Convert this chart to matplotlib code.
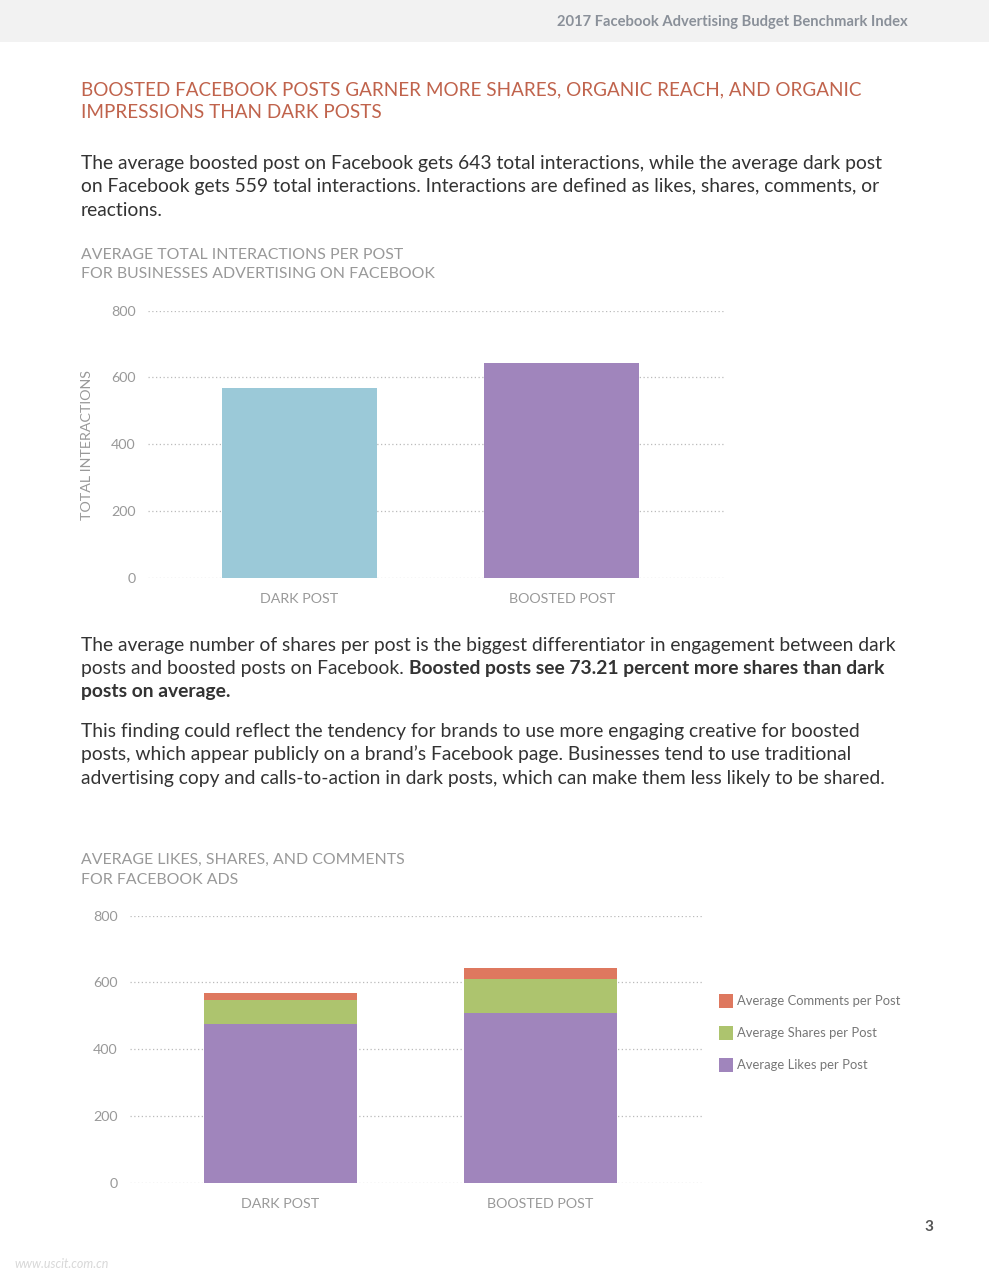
import matplotlib
matplotlib.use("Agg")
import matplotlib.pyplot as plt
from matplotlib.patches import Rectangle
import numpy as np

plt.rcParams['font.family'] = ['Lato', 'DejaVu Sans']

# data
categories = ['DARK POST', 'BOOSTED POST']
total_interactions = [568, 643]
likes = [475, 509]
shares = [72, 101]
comments = [20, 33]
y_ticks = [0, 200, 400, 600, 800]
legend_labels = ['Average Comments per Post', 'Average Shares per Post', 'Average Likes per Post']

C_BLUE = '#9bc9d8'
C_PURPLE = '#a085bc'
C_GREEN = '#adc46e'
C_RED = '#de785f'
C_TITLE = '#c0634c'
C_GRAY = '#999999'
C_BODY = '#333333'

W, H = 989, 1280
fig = plt.figure(figsize=(W / 100, H / 100), dpi=100)
fig.patch.set_facecolor('white')


def fx(px):
    return px / W


def fy(py):
    return 1 - py / H


# header band
fig.patches.append(Rectangle((0, fy(42)), 1, 42 / H, transform=fig.transFigure,
                             facecolor='#f2f2f2', edgecolor='none', zorder=0))
fig.text(fx(908), fy(22), '2017 Facebook Advertising Budget Benchmark Index',
         ha='right', va='center', fontsize=10.6, color='#8a9099', fontweight='bold')

# title
fig.text(fx(81), fy(90), 'BOOSTED FACEBOOK POSTS GARNER MORE SHARES, ORGANIC REACH, AND ORGANIC',
         ha='left', va='center', fontsize=13.6, color=C_TITLE)
fig.text(fx(81), fy(113), 'IMPRESSIONS THAN DARK POSTS',
         ha='left', va='center', fontsize=13.6, color=C_TITLE)

BODY_FS = 13.9


def body_line(y, text, bold_text=None):
    y = y + 1.5
    t = fig.text(fx(81), fy(y), text, ha='left', va='center',
                 fontsize=BODY_FS, color=C_BODY)
    if bold_text:
        r = fig.canvas.get_renderer()
        bb = t.get_window_extent(renderer=r)
        x0 = bb.x1 / W if text else fx(81)
        fig.text(x0, fy(y), bold_text, ha='left', va='center',
                 fontsize=BODY_FS, color=C_BODY, fontweight='bold')


body_line(162, 'The average boosted post on Facebook gets 643 total interactions, while the average dark post')
body_line(185, 'on Facebook gets 559 total interactions. Interactions are defined as likes, shares, comments, or')
body_line(209, 'reactions.')

body_line(644, 'The average number of shares per post is the biggest differentiator in engagement between dark')
body_line(667, 'posts and boosted posts on Facebook. ', 'Boosted posts see 73.21 percent more shares than dark')
body_line(690, '', 'posts on average.')

body_line(730, 'This finding could reflect the tendency for brands to use more engaging creative for boosted')
body_line(753, 'posts, which appear publicly on a brand\u2019s Facebook page. Businesses tend to use traditional')
body_line(777, 'advertising copy and calls-to-action in dark posts, which can make them less likely to be shared.')

# chart titles
for y, s in [(255, 'AVERAGE TOTAL INTERACTIONS PER POST'),
             (274, 'FOR BUSINESSES ADVERTISING ON FACEBOOK'),
             (860, 'AVERAGE LIKES, SHARES, AND COMMENTS'),
             (880, 'FOR FACEBOOK ADS')]:
    fig.text(fx(81), fy(y), s, ha='left', va='center', fontsize=11.4, color=C_GRAY)


def style_axis(ax):
    ax.set_xlim(-0.578, 1.622)
    ax.set_ylim(0, 800)
    ax.set_yticks(y_ticks)
    ax.set_yticklabels([str(v) for v in y_ticks])
    ax.set_xticks(range(len(categories)))
    ax.set_xticklabels(categories)
    for s in ax.spines.values():
        s.set_visible(False)
    ax.tick_params(axis='both', length=0, colors=C_GRAY, labelsize=10.3)
    ax.tick_params(axis='y', pad=9)
    ax.tick_params(axis='x', pad=11)
    ax.yaxis.grid(True, linestyle=(0, (1, 2)), color='#bbbbbb', linewidth=0.9)
    ax.set_axisbelow(True)
    ax.patch.set_alpha(0)


x = np.arange(len(categories))
bw = 0.59

# chart 1
ax1 = fig.add_axes([fx(148), fy(577.7), (725 - 148) / W, 267 / H])
ax1.bar(x, total_interactions, width=bw, color=[C_BLUE, C_PURPLE], zorder=3)
style_axis(ax1)
fig.text(fx(87), fy(445), 'TOTAL INTERACTIONS', rotation=90, ha='center', va='center',
         fontsize=10.3, color=C_GRAY)

# chart 2
ax2 = fig.add_axes([fx(130), fy(1182.7), (702 - 130) / W, 267 / H])
ax2.bar(x, likes, width=bw, color=C_PURPLE, zorder=3)
ax2.bar(x, shares, width=bw, bottom=likes, color=C_GREEN, zorder=3)
ax2.bar(x, comments, width=bw, bottom=np.array(likes) + np.array(shares),
        color=C_RED, zorder=3)
style_axis(ax2)

# legend drawn by hand
for i, (lab, col) in enumerate(zip(legend_labels, [C_RED, C_GREEN, C_PURPLE])):
    yc = 1001 + 32 * i
    fig.patches.append(Rectangle((fx(719), fy(yc + 7)), 14 / W, 14 / H,
                                 transform=fig.transFigure, facecolor=col,
                                 edgecolor='none'))
    fig.text(fx(737), fy(yc), lab, ha='left', va='center', fontsize=9.4,
             color='#777777')

# page number and watermark
fig.text(fx(929), fy(1227), '3', ha='center', va='center', fontsize=11,
         color='#555555', fontweight='bold')
fig.text(fx(15), fy(1264), 'www.uscit.com.cn', ha='left', va='center', fontsize=9,
         color='#d8d8d8', style='italic')

fig.savefig('out.png', dpi=100, facecolor='white')
